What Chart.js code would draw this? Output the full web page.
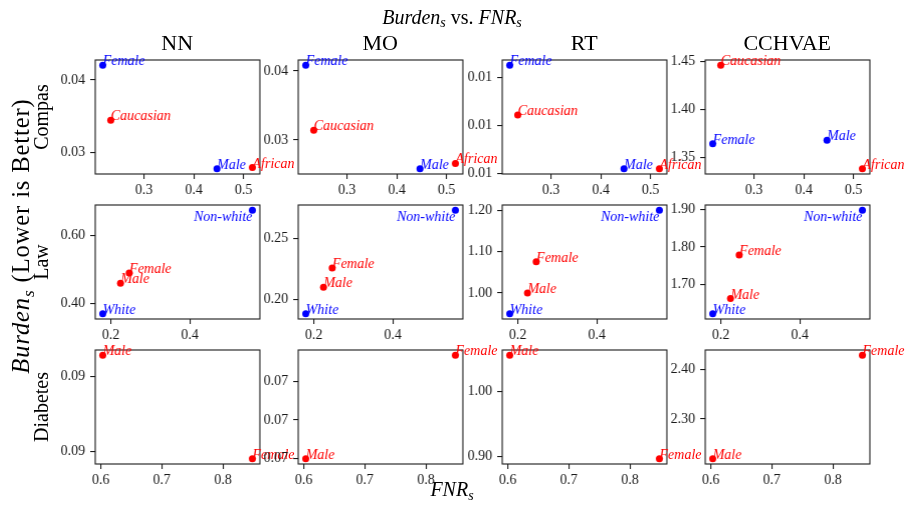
<!DOCTYPE html>
<html><head><meta charset="utf-8">
<script src="https://cdn.jsdelivr.net/npm/chart.js@4"></script>
<style>
html,body{margin:0;padding:0;background:#fff;}
#fig{position:relative;width:906px;height:512px;overflow:hidden;font-family:"Liberation Serif","Times New Roman",serif;color:#000;background:#fff;}
canvas{position:absolute;}
.t{position:absolute;white-space:nowrap;line-height:1;}
.sub{font-size:0.7em;position:relative;top:0.28em;}
</style></head><body><div id="fig"></div>
<script>
// ---------------- DATA ----------------
const models = ['NN', 'MO', 'RT', 'CCHVAE'];
const dataNames = ['Compas', 'Law', 'Diabetes'];

// Compas
const compasGroups = ['Female', 'Caucasian', 'Male', 'African'];
const compasFNR = [0.2172, 0.2333, 0.4465, 0.5176];
const compasBurdenNN = [0.04202, 0.03446, 0.02776, 0.02794];
const compasBurdenMO = [0.04082, 0.0314, 0.02582, 0.0266];
const compasBurdenRT = [0.011124, 0.010608, 0.010049, 0.010049];
const compasBurdenCCHVAE = [1.3642, 1.4459, 1.368, 1.3383];
const compasXTicks = [0.3, 0.4, 0.5];
const compasYTicksNN = [0.03, 0.04];
const compasYTicksMO = [0.03, 0.04];
const compasYTicksRT = [0.0100, 0.0105, 0.0110];
const compasYTicksCCHVAE = [1.35, 1.40, 1.45];

// Law
const lawGroups = ['White', 'Male', 'Female', 'Non-white'];
const lawFNR = [0.1797, 0.2246, 0.2467, 0.5583];
const lawBurdenNN = [0.3687, 0.4591, 0.4898, 0.6759];
const lawBurdenMO = [0.188, 0.2098, 0.2257, 0.2733];
const lawBurdenRT = [0.9494, 1.0, 1.0752, 1.2];
const lawBurdenCCHVAE = [1.6219, 1.6627, 1.7787, 1.898];
const lawXTicks = [0.2, 0.4];
const lawYTicksNN = [0.4, 0.6];
const lawYTicksMO = [0.20, 0.25];
const lawYTicksRT = [1.0, 1.1, 1.2];
const lawYTicksCCHVAE = [1.7, 1.8, 1.9];

// Diabetes
const diabetesGroups = ['Male', 'Female'];
const diabetesFNR = [0.6033, 0.8482];
const diabetesBurdenNN = [0.090644, 0.089951];
const diabetesBurdenMO = [0.0700, 0.070534];
const diabetesBurdenRT = [1.0566, 0.8958];
const diabetesBurdenCCHVAE = [2.22, 2.428];
const diabetesXTicks = [0.6, 0.7, 0.8];
const diabetesYTicksNN = [0.0900, 0.0905];
const diabetesYTicksMO = [0.0700, 0.0702, 0.0704];
const diabetesYTicksRT = [0.9, 1.0];
const diabetesYTicksCCHVAE = [2.3, 2.4];

// ---------------- STYLE / LAYOUT ----------------
const RED = '#ff0000', BLUE = '#0000ff';
const groupColors = {
  Compas: {Female: BLUE, Male: BLUE, Caucasian: RED, African: RED},
  Law: {White: BLUE, 'Non-white': BLUE, Male: RED, Female: RED},
  Diabetes: {Male: RED, Female: RED}
};
const colLeft = [95, 298, 502, 705];
const rowTop = [60.3, 205, 350];
const PW = 164.5, PH = 114;
const PL = 70, PT = 22, PR = 46, PB = 36;
const INK = '#1a1a1a';
const TICKFONT = {family: '"Liberation Serif", "Times New Roman", serif', size: 14};

const rows = [
  {name: 'Compas', groups: compasGroups, x: compasFNR, xt: compasXTicks,
   ys: [compasBurdenNN, compasBurdenMO, compasBurdenRT, compasBurdenCCHVAE],
   yts: [compasYTicksNN, compasYTicksMO, compasYTicksRT, compasYTicksCCHVAE]},
  {name: 'Law', groups: lawGroups, x: lawFNR, xt: lawXTicks,
   ys: [lawBurdenNN, lawBurdenMO, lawBurdenRT, lawBurdenCCHVAE],
   yts: [lawYTicksNN, lawYTicksMO, lawYTicksRT, lawYTicksCCHVAE]},
  {name: 'Diabetes', groups: diabetesGroups, x: diabetesFNR, xt: diabetesXTicks,
   ys: [diabetesBurdenNN, diabetesBurdenMO, diabetesBurdenRT, diabetesBurdenCCHVAE],
   yts: [diabetesYTicksNN, diabetesYTicksMO, diabetesYTicksRT, diabetesYTicksCCHVAE]}
];

const fig = document.getElementById('fig');
function addText(html, style, cls) {
  const d = document.createElement('div');
  d.className = 't' + (cls ? ' ' + cls : '');
  d.innerHTML = html;
  Object.assign(d.style, style);
  fig.appendChild(d);
  return d;
}
function padRange(arr) {
  const lo = Math.min(...arr), hi = Math.max(...arr);
  const m = (hi - lo) * 0.05;
  return [lo - m, hi + m];
}

rows.forEach((row, r) => {
  models.forEach((model, c) => {
    const xs = row.x, ys = row.ys[c];
    const cv = document.createElement('canvas');
    const W = PW + PL + PR, H = PH + PT + PB;
    cv.width = W; cv.height = H;
    cv.style.left = (colLeft[c] - PL) + 'px';
    cv.style.top = (rowTop[r] - PT) + 'px';
    cv.style.width = W + 'px'; cv.style.height = H + 'px';
    fig.appendChild(cv);
    const [xmin, xmax] = padRange(xs);
    const [ymin, ymax] = padRange(ys);
    const colors = row.groups.map(g => groupColors[row.name][g]);
    const xt = row.xt, yt = row.yts[c];
    const annot = {
      id: 'annot' + r + c,
      afterDatasetsDraw(chart) {
        const {ctx, chartArea: a} = chart;
        ctx.save();
        ctx.strokeStyle = INK; ctx.lineWidth = 1.1;
        ctx.strokeRect(a.left, a.top, a.right - a.left, a.bottom - a.top);
        ctx.font = 'italic 14px "Liberation Serif", "Times New Roman", serif';
        row.groups.forEach((g, i) => {
          const px = chart.scales.x.getPixelForValue(xs[i]);
          const py = chart.scales.y.getPixelForValue(ys[i]);
          ctx.fillStyle = colors[i];
          if (g === 'Non-white') { ctx.textAlign = 'right'; ctx.textBaseline = 'top'; }
          else { ctx.textAlign = 'left'; ctx.textBaseline = 'alphabetic'; }
          ctx.fillText(g, px, py);
        });
        ctx.restore();
      }
    };
    new Chart(cv, {
      type: 'scatter',
      data: {datasets: [{
        label: row.name + ' ' + model,
        data: xs.map((v, i) => ({x: v, y: ys[i]})),
        pointBackgroundColor: colors,
        pointBorderWidth: 0,
        pointRadius: 3.5,
        pointHoverRadius: 3.5,
        clip: false
      }]},
      options: {
        responsive: false, animation: false, devicePixelRatio: 1,
        events: [],
        layout: {padding: {left: 0, top: PT, right: PR, bottom: 0}},
        plugins: {legend: {display: false}, tooltip: {enabled: false}, title: {display: false}},
        scales: {
          x: {type: 'linear', position: 'bottom', min: xmin, max: xmax,
            afterBuildTicks: s => { s.ticks = xt.map(v => ({value: v})); },
            afterFit: s => { s.height = PB; },
            ticks: {callback: v => Number(v).toFixed(1), font: TICKFONT, color: '#1a1a1a', padding: 3, autoSkip: false, maxRotation: 0},
            grid: {drawOnChartArea: false, drawTicks: true, tickLength: 5, color: INK, lineWidth: 1.1},
            border: {display: false}},
          y: {type: 'linear', position: 'left', min: ymin, max: ymax,
            afterBuildTicks: s => { s.ticks = yt.map(v => ({value: v})); },
            afterFit: s => { s.width = PL; },
            ticks: {callback: v => Number(v).toFixed(2), font: TICKFONT, color: '#1a1a1a', padding: 5, autoSkip: false},
            grid: {drawOnChartArea: false, drawTicks: true, tickLength: 5, color: INK, lineWidth: 1.1},
            border: {display: false}}
        }
      },
      plugins: [annot]
    });
  });
});

// ---------------- TEXT ----------------
addText('<i>Burden<span class="sub">s</span></i> vs. <i>FNR<span class="sub">s</span></i>',
  {left: '452px', top: '6.5px', fontSize: '20px', transform: 'translateX(-50%)'});
models.forEach((m, c) => {
  addText(m, {left: (colLeft[c] + PW / 2) + 'px', top: '32.3px', fontSize: '22px', transform: 'translateX(-50%)'});
});
dataNames.forEach((n, r) => {
  addText(n, {left: '41.3px', top: (rowTop[r] + PH / 2) + 'px', fontSize: '20px', transform: 'translate(-50%,-50%) rotate(-90deg)'});
});
addText('<i>Burden<span class="sub">s</span></i> (Lower is Better)',
  {left: '21px', top: '236px', fontSize: '24.5px', letterSpacing: '0.9px', transform: 'translate(-50%,-50%) rotate(-90deg)'});
addText('<i>FNR<span class="sub">s</span></i>',
  {left: '452px', top: '479px', fontSize: '20px', transform: 'translateX(-50%)'});
</script>
</body></html>
